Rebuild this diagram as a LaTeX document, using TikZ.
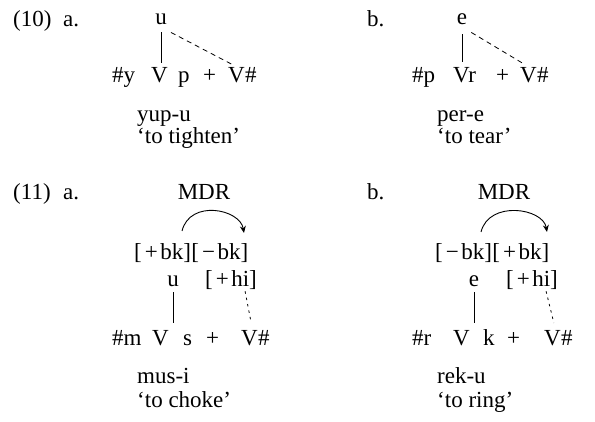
\documentclass[tikz,border=0pt]{standalone}
\usepackage{fontspec}
\setmainfont{Liberation Serif}
\usetikzlibrary{arrows.meta}
\begin{document}
\begin{tikzpicture}[x=1pt,y=-1pt,
  txt/.style={inner sep=1pt,font=\fontsize{23}{27}\selectfont,anchor=base west},
  ctxt/.style={txt,anchor=base},
  solidline/.style={line width=0.8pt},
  dashline/.style={line width=0.8pt,dash pattern=on 5pt off 4pt},
  dotline/.style={line width=0.8pt,dash pattern=on 2.5pt off 4pt},
  rulearrow/.style={line width=0.9pt,-{Stealth[length=7pt,width=6pt]}}]
\useasboundingbox (0,0) rectangle (595,422);
% ---------- (10) a.
\node[txt] (n10) at (12,27) {(10)};
\node[txt] (a10) at (62,27) {a.};
\node[ctxt] (u10) at (161,25) {u};
\node[txt] (ay) at (111,83) {\#y};
\node[txt] (aV) at (150,83) {V};
\node[txt] (ap) at (177,83) {p};
\node[txt] (aplus) at (202,83) {+};
\node[txt] (aV2) at (227,83) {V};
\node[txt] (ahash) at (244,83) {\#};
\draw[solidline,shorten <=6pt,shorten >=4pt] (u10.south) -- (u10.south |- aV.north);
\draw[dashline,shorten >=3pt] ([shift={(3,6)}]u10.south east) -- (aV2.north);
\node[txt] (g10a) at (136,122) {yup-u};
\node[txt] (t10a) at (136,144) {‘to tighten’};
% ---------- (10) b.
\node[txt] (b10) at (366,27) {b.};
\node[ctxt] (e10) at (462,25) {e};
\node[txt] (bp) at (411,83) {\#p};
\node[txt] (bV) at (452,83) {Vr};
\node[txt] (bplus) at (495,83) {+};
\node[txt] (bV2) at (519,83) {V};
\node[txt] (bhash) at (536,83) {\#};
\draw[solidline,shorten <=8pt,shorten >=5pt] (e10.south) -- (e10.south |- bV.north);
\draw[dashline,shorten >=5pt] ([shift={(3,6)}]e10.south east) -- (bV2.north);
\node[txt] (g10b) at (436,122) {per-e};
\node[txt] (t10b) at (436,144) {‘to tear’};
% ---------- (11) a.
\node[txt] (n11) at (12,200) {(11)};
\node[txt] (a11) at (62,200) {a.};
\node[ctxt] (mdra) at (204,200) {MDR};
\node[txt] (bka) at (133,260) {[\hspace{3pt}+\hspace{2.5pt}bk]};
\node[txt,xshift=-2pt] (bkb) at (bka.base east) {[\hspace{3pt}−\hspace{2.5pt}bk]};
\node[ctxt] (u11) at (173,287) {u};
\node[txt] (hia) at (204,287) {[\hspace{3pt}+\hspace{2.5pt}hi]};
\node[txt] (cm) at (111,346) {\#m};
\node[txt] (cV) at (151,346) {V};
\node[txt] (cs) at (182,346) {s};
\node[txt] (cplus) at (205,346) {+};
\node[txt] (cV2) at (240,346) {V};
\node[txt] (chash) at (257,346) {\#};
\coordinate (arcA1) at (182,231);
\coordinate (arcA2) at (244,233);
\draw[rulearrow] (arcA1) .. controls +(8,-32) and +(-4,-24) .. (arcA2);
\draw[solidline,shorten <=4pt,shorten >=7pt] (u11.south) -- (u11.south |- cV.north);
\draw[dotline,shorten >=7pt] ([xshift=-13pt]hia.south east) -- ([xshift=3pt]cV2.north);
\node[txt] (g11a) at (136,384) {mus-i};
\node[txt] (t11a) at (136,407) {‘to choke’};
% ---------- (11) b.
\node[txt] (b11) at (366,200) {b.};
\node[ctxt] (mdrb) at (504,200) {MDR};
\node[txt] (bkc) at (434,260) {[\hspace{3pt}−\hspace{2.5pt}bk]};
\node[txt,xshift=-2pt] (bkd) at (bkc.base east) {[\hspace{3pt}+\hspace{2.5pt}bk]};
\node[ctxt] (e11) at (474,287) {e};
\node[txt] (hib) at (505,287) {[\hspace{3pt}+\hspace{2.5pt}hi]};
\node[txt] (dr) at (411,346) {\#r};
\node[txt] (dV) at (452,346) {V};
\node[txt] (dk) at (482,346) {k};
\node[txt] (dplus) at (506,346) {+};
\node[txt] (dV2) at (543,346) {V};
\node[txt] (dhash) at (560,346) {\#};
\coordinate (arcB1) at (481,232);
\coordinate (arcB2) at (547,232);
\draw[rulearrow] (arcB1) .. controls +(8,-32) and +(-4,-24) .. (arcB2);
\draw[solidline,shorten <=4pt,shorten >=7pt] (e11.south) -- (e11.south |- dV.north);
\draw[dotline,shorten >=7pt] ([xshift=-13pt]hib.south east) -- ([xshift=3pt]dV2.north);
\node[txt] (g11b) at (436,384) {rek-u};
\node[txt] (t11b) at (436,407) {‘to ring’};
\end{tikzpicture}
\end{document}
